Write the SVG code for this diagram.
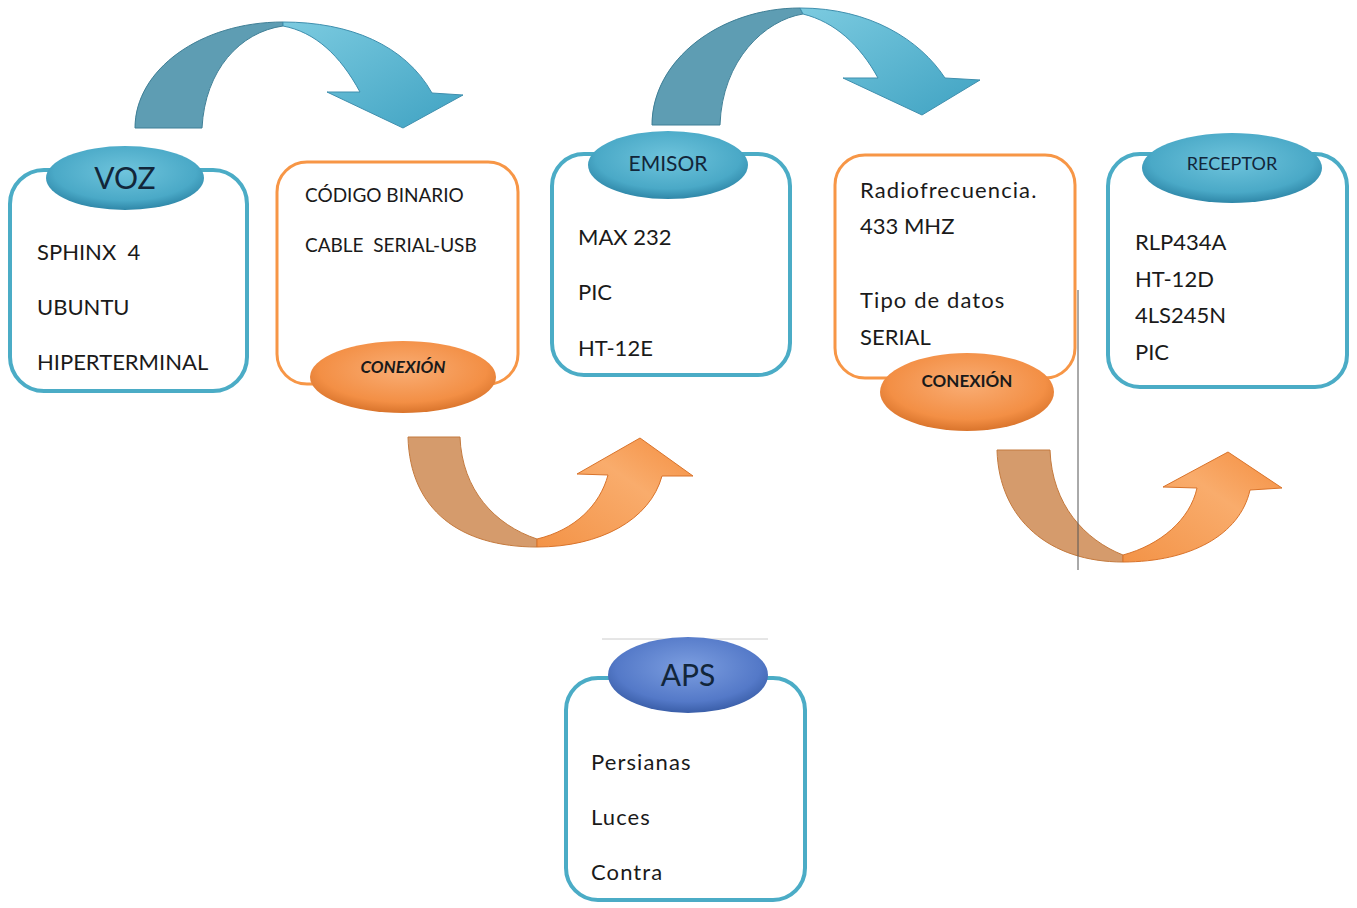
<svg xmlns="http://www.w3.org/2000/svg" width="1357" height="908" viewBox="0 0 1357 908">
<defs>
  <radialGradient id="gBlue" cx="50%" cy="40%" r="60%">
    <stop offset="0" stop-color="#6fc4dc"/>
    <stop offset="0.75" stop-color="#4aa9c7"/>
    <stop offset="1" stop-color="#2f87a8"/>
  </radialGradient>
  <radialGradient id="gNavy" cx="50%" cy="40%" r="60%">
    <stop offset="0" stop-color="#7c9ee0"/>
    <stop offset="0.75" stop-color="#5479c8"/>
    <stop offset="1" stop-color="#3a5ea8"/>
  </radialGradient>
  <radialGradient id="gOrange" cx="50%" cy="40%" r="60%">
    <stop offset="0" stop-color="#f9ad74"/>
    <stop offset="0.75" stop-color="#f38f45"/>
    <stop offset="1" stop-color="#d9742c"/>
  </radialGradient>
  <linearGradient id="gArrowBlue" x1="0" y1="0" x2="1" y2="1">
    <stop offset="0" stop-color="#7ccbe0"/>
    <stop offset="1" stop-color="#3fa2c2"/>
  </linearGradient>
  <linearGradient id="gArrowOr" x1="0" y1="1" x2="1" y2="0">
    <stop offset="0" stop-color="#f39347"/>
    <stop offset="0.6" stop-color="#f9ac6c"/>
    <stop offset="1" stop-color="#f48e40"/>
  </linearGradient>
</defs>
<style>
  .bbox { fill:#ffffff; stroke:#4bacc6; stroke-width:4; }
  .obox { fill:#ffffff; stroke:#f79646; stroke-width:3; }
  .bell { fill:url(#gBlue); }
  .nell { fill:url(#gNavy); }
  .oell { fill:url(#gOrange); }
  .t { font-family:Lato, "Open Sans", "Liberation Sans", sans-serif; fill:#1a1a1a; white-space:pre; }
  .body { font-size:22px; }
  .lc { letter-spacing:1.1px; }
  .small { font-size:19px; }
  .head { fill:#12263a; text-anchor:middle; }
  .con { font-size:17px; font-weight:bold; text-anchor:middle; fill:#1a1a1a; }
  .adark { fill:#5e9db3; stroke:#3f7f96; stroke-width:1; }
  .alight { fill:url(#gArrowBlue); stroke:#3f8fae; stroke-width:1; }
  .odark { fill:#d59b6c; stroke:#c47a3e; stroke-width:1; }
  .olight { fill:url(#gArrowOr); stroke:#d9732a; stroke-width:1; }
</style>
<rect width="1357" height="908" fill="#ffffff"/>

<g id="connectors">
  <g id="arrow-top-1">
    <path class="adark" d="M135,128 C135,70 200,22 283,22 L283,26 C240,32 205,70 202,128 Z"/>
    <path class="alight" d="M283,22 C350,22 405,45 432,93 L463,95 L403,128 L327,92 L360,92 C340,55 315,32 283,26 Z"/>
  </g>
  <g id="arrow-top-2">
    <path class="adark" d="M652,125 C652,60 720,8 800,8 L803,14 C765,20 722,60 720,125 Z"/>
    <path class="alight" d="M800,8 C870,8 920,40 945,78 L980,80 L922,115 L843,78 L878,78 C860,45 835,22 803,14 Z"/>
  </g>
  <g id="arrow-bottom-1">
    <path class="odark" d="M408,437 L460,437 C462,490 495,525 537,539 L537,547 C460,547 410,510 408,437 Z"/>
    <path class="olight" d="M537,539 C575,530 600,505 608,475 L577,474 L640,438 L693,476 L662,476 C650,520 600,547 537,547 Z"/>
  </g>
  <g id="arrow-bottom-2">
    <path class="odark" d="M997,450 L1050,450 C1052,505 1085,540 1123,555 L1123,562 C1050,562 999,520 997,450 Z"/>
    <path class="olight" d="M1123,555 C1160,545 1190,520 1197,488 L1163,487 L1228,452 L1282,488 L1250,490 C1240,535 1190,562 1123,562 Z"/>
  </g>
  <line x1="1078" y1="290" x2="1078" y2="570" stroke="#555555" stroke-width="1"/>
  <line x1="602" y1="639" x2="768" y2="639" stroke="#cccccc" stroke-width="1"/>
</g>

<g id="voz">
  <rect class="bbox" x="10" y="170" width="237" height="221" rx="34"/>
  <ellipse class="bell" cx="125" cy="178" rx="79" ry="32"/>
  <text class="t head" x="125" y="189" font-size="30">VOZ</text>
  <text class="t body" x="37" y="260">SPHINX  4</text>
  <text class="t body" x="37" y="315">UBUNTU</text>
  <text class="t body" x="37" y="370">HIPERTERMINAL</text>
</g>

<g id="codigo">
  <rect class="obox" x="277" y="162" width="241" height="222" rx="30"/>
  <ellipse class="oell" cx="403" cy="377" rx="93" ry="36"/>
  <text class="t small" x="305" y="202">CÓDIGO BINARIO</text>
  <text class="t small" x="305" y="252">CABLE  SERIAL-USB</text>
  <text class="t con" x="403" y="373" font-style="italic">CONEXIÓN</text>
</g>

<g id="emisor">
  <rect class="bbox" x="552" y="154" width="238" height="221" rx="32"/>
  <ellipse class="bell" cx="668" cy="165" rx="80" ry="34"/>
  <text class="t head" x="668" y="171" font-size="21">EMISOR</text>
  <text class="t body" x="578" y="245">MAX 232</text>
  <text class="t body" x="578" y="300">PIC</text>
  <text class="t body" x="578" y="356">HT-12E</text>
</g>

<g id="radio">
  <rect class="obox" x="835" y="155" width="240" height="223" rx="30"/>
  <ellipse class="oell" cx="967" cy="392" rx="87" ry="39"/>
  <text class="t body lc" x="860" y="198">Radiofrecuencia.</text>
  <text class="t body" x="860" y="234">433 MHZ</text>
  <text class="t body lc" x="860" y="308">Tipo de datos</text>
  <text class="t body" x="860" y="345">SERIAL</text>
  <text class="t con" x="967" y="387">CONEXIÓN</text>
</g>

<g id="receptor">
  <rect class="bbox" x="1108" y="154" width="239" height="233" rx="32"/>
  <ellipse class="bell" cx="1232" cy="168" rx="90" ry="35"/>
  <text class="t head" x="1232" y="170" font-size="18">RECEPTOR</text>
  <text class="t body" x="1135" y="250">RLP434A</text>
  <text class="t body" x="1135" y="287">HT-12D</text>
  <text class="t body" x="1135" y="323">4LS245N</text>
  <text class="t body" x="1135" y="360">PIC</text>
</g>

<g id="aps">
  <rect class="bbox" x="566" y="678" width="239" height="222" rx="32"/>
  <ellipse class="nell" cx="688" cy="675" rx="80" ry="38"/>
  <text class="t head" x="688" y="686" font-size="30">APS</text>
  <text class="t body lc" x="591" y="770">Persianas</text>
  <text class="t body lc" x="591" y="825">Luces</text>
  <text class="t body lc" x="591" y="880">Contra</text>
</g>
</svg>
